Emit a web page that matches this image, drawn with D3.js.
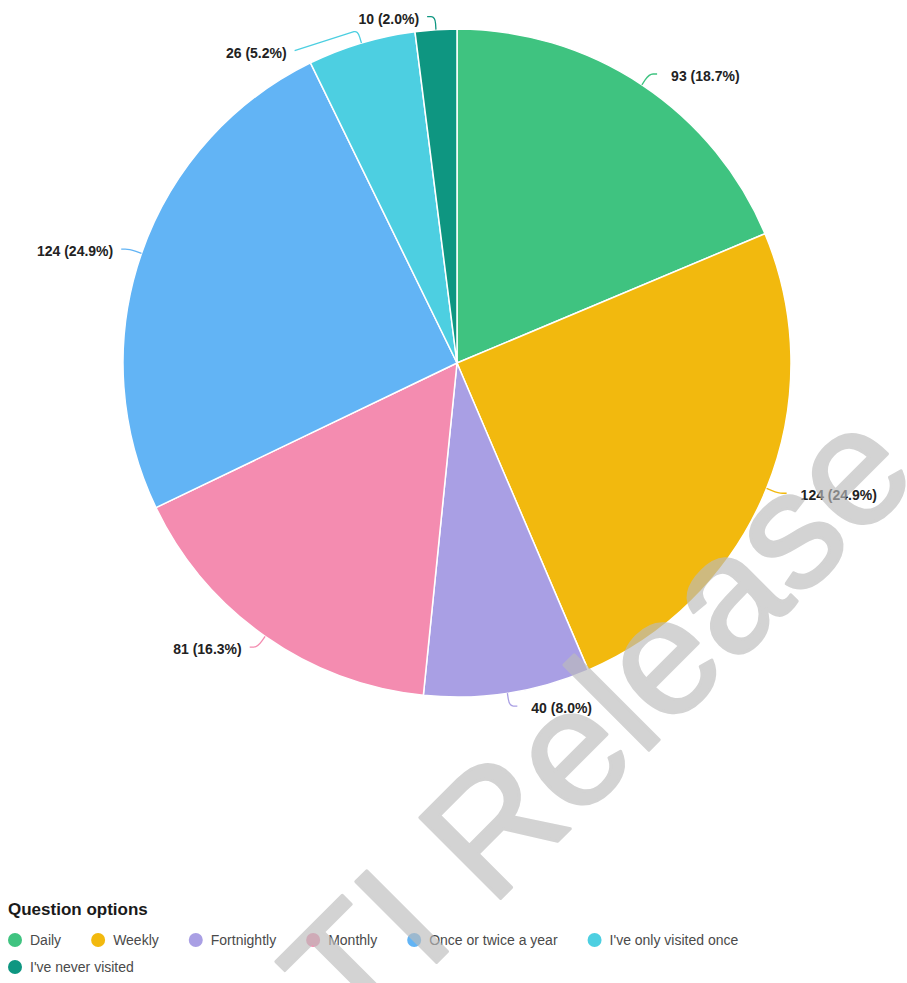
<!DOCTYPE html>
<html>
<head>
<meta charset="utf-8">
<script src="https://cdn.jsdelivr.net/npm/d3@7"></script>
<style>
  html, body { margin: 0; padding: 0; background: #fff; }
  svg { display: block; font-family: "Liberation Sans", Arial, Helvetica, sans-serif; }
</style>
</head>
<body>
<svg id="chart" width="907" height="983"></svg>
<script>
// ---- data ----
const categories = ["Daily", "Weekly", "Fortnightly", "Monthly", "Once or twice a year", "I've only visited once", "I've never visited"];
const values = [93, 124, 40, 81, 124, 26, 10];
const colors = ["#3FC380", "#F2B90E", "#A99FE4", "#F48CB0", "#62B4F5", "#4DCFE1", "#0E9681"];
const legendTitle = "Question options";
const watermarkText = "TI Release";

// ---- layout ----
const W = 907, H = 983;
const cx = 457, cy = 363, R = 334;
const svg = d3.select("#chart");

const total = d3.sum(values);
const data = categories.map((c, i) => ({ cat: c, value: values[i], color: colors[i] }));
const pie = d3.pie().value(d => d.value).sort(null);
const arcs = pie(data);
const arc = d3.arc().innerRadius(0).outerRadius(R);

const g = svg.append("g").attr("transform", `translate(${cx},${cy})`);
g.selectAll("path.slice").data(arcs).join("path")
  .attr("class", "slice")
  .attr("d", arc)
  .attr("fill", d => d.data.color)
  .attr("stroke", "#fff")
  .attr("stroke-width", 1.5)
  .attr("stroke-linejoin", "round");

// ---- labels with leader lines ----
const fmt = d => `${d.value} (${(d.value / total * 100).toFixed(1)}%)`;
const labels = arcs.map(a => {
  const m = (a.startAngle + a.endAngle) / 2;
  const right = Math.sin(m) >= 0;
  const p0 = [R * Math.sin(m), -R * Math.cos(m)];
  const p1 = [(R + 13) * Math.sin(m), -(R + 13) * Math.cos(m)];
  return { a, m, right, p0, p1, y: p1[1], pushed: false };
});
// simple collision avoidance on each side
["left", "right"].forEach(side => {
  const list = labels.filter(l => (side === "right") === l.right).sort((x, y) => x.y - y.y);
  const minGap = 34;
  for (let i = 1; i < list.length; i++) {
    if (list[i].y < list[i - 1].y + minGap) {
      list[i].y = list[i - 1].y + minGap;
      list[i].pushed = true;
    }
  }
});
labels.forEach(l => {
  const dir = l.right ? 1 : -1;
  if (l.pushed) {
    const rr = R + 18;
    const x = dir * Math.sqrt(Math.max(0, rr * rr - l.y * l.y));
    l.p2 = [x, l.y];
  } else {
    l.p2 = [l.p1[0] + dir * 8, l.p1[1]];
  }
});

const lg = g.append("g");
labels.forEach(l => {
  const { p0, p1, p2 } = l;
  const m1 = [p0[0] + (p1[0] - p0[0]) * 0.45, p0[1] + (p1[1] - p0[1]) * 0.45];
  const dx = p2[0] - p1[0], dy = p2[1] - p1[1];
  const len = Math.hypot(dx, dy) || 1;
  const k = Math.min(4, len * 0.5);
  const m2 = [p1[0] + dx / len * k, p1[1] + dy / len * k];
  lg.append("path")
    .attr("d", `M${p0[0]},${p0[1]} L${m1[0]},${m1[1]} Q${p1[0]},${p1[1]} ${m2[0]},${m2[1]} L${p2[0]},${p2[1]}`)
    .attr("fill", "none")
    .attr("stroke", l.a.data.color)
    .attr("stroke-width", 1.3);
  lg.append("text")
    .attr("x", l.right ? p2[0] + 14 : p2[0] - 8)
    .attr("y", p2[1] + 2)
    .attr("dy", "0.35em")
    .attr("text-anchor", l.right ? "start" : "end")
    .attr("font-size", 14)
    .attr("font-weight", "bold")
    .attr("fill", "#222")
    .text(fmt(l.a.data));
});

// ---- legend ----
const legend = svg.append("g");
legend.append("text")
  .attr("x", 8).attr("y", 915)
  .attr("font-size", 17).attr("font-weight", "bold").attr("fill", "#1a1a1a")
  .text(legendTitle);

const rowY = [940, 967];
const maxX = 870;
let x = 15, row = 0;
data.forEach((d, i) => {
  const item = legend.append("g");
  const t = item.append("text")
    .attr("font-size", 14).attr("fill", "#4a4a4a")
    .attr("dy", "0.35em")
    .text(d.cat);
  const tw = t.node().getComputedTextLength();
  if (x + 15 + tw > maxX || (i === 6)) { row += 1; x = 15; }
  item.attr("transform", `translate(${x},${rowY[row]})`);
  item.insert("circle", "text").attr("cx", 0).attr("cy", 0).attr("r", 7).attr("fill", d.color);
  t.attr("x", 15);
  x = x + 15 + tw + 37;
});

// ---- watermark ----
svg.append("g")
  .attr("opacity", 0.65)
  .append("text")
  .attr("transform", "translate(354,1045) rotate(-45)")
  .attr("font-size", 166)
  .attr("fill", "#bcbcbc")
  .attr("stroke", "#bcbcbc")
  .attr("stroke-width", 3)
  .attr("stroke-linejoin", "round")
  .text(watermarkText);
</script>
</body>
</html>
